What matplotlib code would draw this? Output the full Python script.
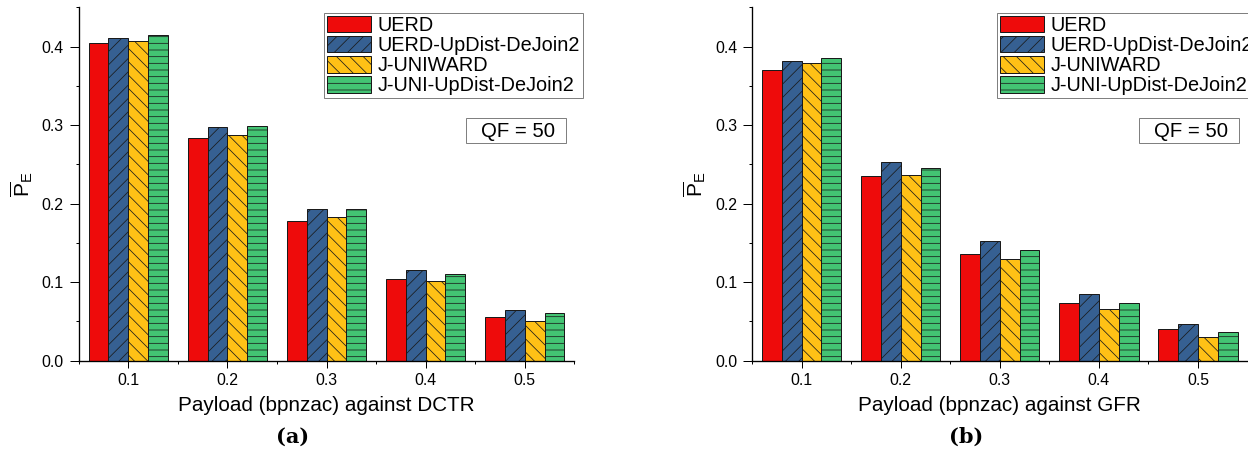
import numpy as np
import matplotlib
matplotlib.use('Agg')
import matplotlib.pyplot as plt
from matplotlib.patches import Rectangle
from matplotlib.ticker import MultipleLocator

# payload values on the x axis
payloads = ['0.1', '0.2', '0.3', '0.4', '0.5']
series = ['UERD', 'UERD-UpDist-DeJoin2', 'J-UNIWARD', 'J-UNI-UpDist-DeJoin2']

# (a) against DCTR
dctr_uerd = [0.405, 0.283, 0.178, 0.104, 0.056]
dctr_uerd_ud = [0.411, 0.297, 0.193, 0.116, 0.064]
dctr_juni = [0.407, 0.287, 0.183, 0.102, 0.050]
dctr_juni_ud = [0.415, 0.299, 0.193, 0.111, 0.061]

# (b) against GFR
gfr_uerd = [0.370, 0.235, 0.136, 0.074, 0.041]
gfr_uerd_ud = [0.381, 0.253, 0.152, 0.085, 0.047]
gfr_juni = [0.379, 0.236, 0.129, 0.066, 0.030]
gfr_juni_ud = [0.386, 0.246, 0.141, 0.074, 0.037]

colors = ['#EE0B0B', '#366092', '#FFC116', '#43C473']
hatches = ['', '///', '\\\\\\', '---']

plt.rcParams['font.family'] = ['Liberation Sans', 'DejaVu Sans']
plt.rcParams['mathtext.fontset'] = 'custom'
plt.rcParams['mathtext.rm'] = 'Liberation Sans'
plt.rcParams['mathtext.it'] = 'Liberation Sans:italic'
plt.rcParams['hatch.linewidth'] = 0.45


def draw_panel(ax, data, xlabel, tag):
    x = np.arange(len(payloads))
    w = 0.2
    for i, vals in enumerate(data):
        ax.bar(x + (i - 1.5) * w, vals, w, color=colors[i], hatch=hatches[i],
               edgecolor='#1a1a1a', linewidth=0.6, label=series[i])
    ax.set_xlim(-0.5, len(payloads) - 0.5)
    ax.set_ylim(0, 0.45)
    ax.set_xticks(x)
    ax.set_xticklabels(payloads)
    ax.set_xticks(np.arange(len(payloads) + 1) - 0.5, minor=True)
    ax.set_yticks([0.0, 0.1, 0.2, 0.3, 0.4])
    ax.set_yticklabels(['0.0', '0.1', '0.2', '0.3', '0.4'])
    ax.yaxis.set_minor_locator(MultipleLocator(0.05))
    for s in ['top', 'right']:
        ax.spines[s].set_visible(False)
    for s in ['left', 'bottom']:
        ax.spines[s].set_linewidth(0.8)
    ax.tick_params(axis='x', which='major', length=4, width=0.6, pad=3.2, labelsize=9.5)
    ax.tick_params(axis='x', which='minor', length=1.6, width=0.6)
    ax.tick_params(axis='y', which='major', length=5.6, width=0.6, pad=3.4, labelsize=9.5)
    ax.tick_params(axis='y', which='minor', length=1.6, width=0.6)

    ax.set_xlabel(xlabel, fontsize=12.4)
    ax.xaxis.set_label_coords(0.5, -0.1)
    ax.set_ylabel(r'$\overline{\mathrm{P}}_{\mathrm{E}}$', fontsize=12.5)
    ax.yaxis.set_label_coords(-0.088, 0.5)

    leg = ax.legend(loc='upper left', bbox_to_anchor=(0.495, 0.985), borderaxespad=0,
                    fontsize=11.9, handlelength=2.2, handleheight=0.9,
                    labelspacing=0.06, handletextpad=0.33, borderpad=0.15,
                    fancybox=False, framealpha=1)
    leg.get_frame().set_edgecolor('#808080')
    leg.get_frame().set_linewidth(0.6)

    ax.add_patch(Rectangle((0.781, 0.617), 0.202, 0.071, transform=ax.transAxes,
                           facecolor='white', edgecolor='#808080', linewidth=0.6,
                           clip_on=False))
    ax.text(0.886, 0.648, 'QF = 50', transform=ax.transAxes, fontsize=12.2,
            ha='center', va='center')

    pos = ax.get_position()
    fig.text(pos.x0 + pos.width / 2 - 33.5 / 1248, 1 - 436.7 / 452, tag,
             fontsize=12.5, family='DejaVu Serif', weight='bold',
             ha='center', va='center')


fig = plt.figure(figsize=(10.4, 452 / 120), dpi=120)
ax1 = fig.add_axes([78.7 / 1248, 1 - 360.7 / 452, 495.6 / 1248, 353.4 / 452])
ax2 = fig.add_axes([752 / 1248, 1 - 360.7 / 452, 495.6 / 1248, 353.4 / 452])

draw_panel(ax1, [dctr_uerd, dctr_uerd_ud, dctr_juni, dctr_juni_ud],
           'Payload (bpnzac) against DCTR', '(a)')
draw_panel(ax2, [gfr_uerd, gfr_uerd_ud, gfr_juni, gfr_juni_ud],
           'Payload (bpnzac) against GFR', '(b)')

fig.savefig('out.png', dpi=120)
